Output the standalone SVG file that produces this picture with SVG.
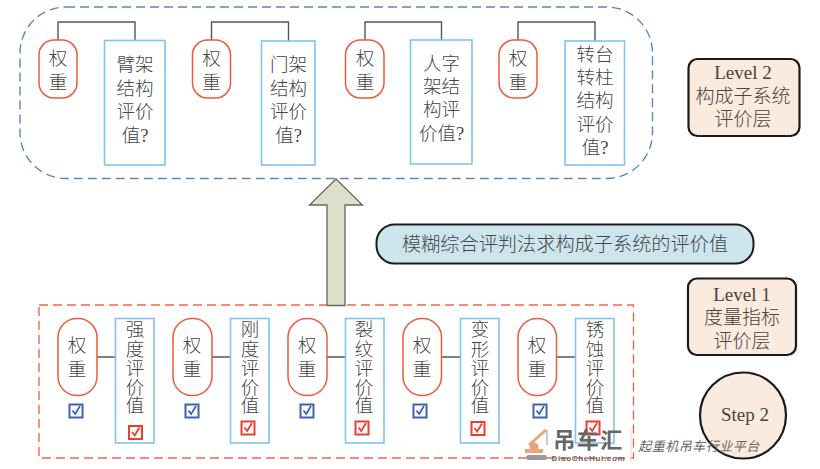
<svg xmlns="http://www.w3.org/2000/svg" width="820" height="469" viewBox="0 0 820 469">
<style>
text{font-family:"Liberation Serif","Noto Sans CJK SC",serif;font-weight:300;fill:#454545;text-anchor:middle;dominant-baseline:central}
.t{font-size:18.5px}
.l{font-size:19px}
.p{fill:#fff;stroke:#ee5a3c;stroke-width:1.5}
.b{fill:#fff;stroke:#82c4ec;stroke-width:1.6}
.c{fill:none;stroke:#555;stroke-width:1.4}
.k{fill:#fbeade;stroke:#1a1a1a;stroke-width:2.2}
</style>
<defs>
<g id="cb"><rect x="-6.5" y="-6.5" width="13" height="13" fill="#fff" stroke="#3d62b5" stroke-width="2"/><path d="M-3.5-.5 -.8 3 4-5" fill="none" stroke="#3d62b5" stroke-width="1.8"/></g>
<g id="cr"><rect x="-6.5" y="-6.5" width="13" height="13" fill="#fff" stroke="#ee3d2c" stroke-width="2"/><path d="M-3.5-.5 -.8 3 4-5" fill="none" stroke="#ee3d2c" stroke-width="1.8"/></g>
</defs>

<g id="level2-frame"><rect x="20" y="7" width="632.5" height="171.5" rx="46" fill="#fff" stroke="#5b85c8" stroke-width="1.4" stroke-dasharray="9 5"/></g>
<g id="level1-frame"><rect x="39" y="305" width="594.5" height="153" fill="#fff" stroke="#f0684c" stroke-width="1.4" stroke-dasharray="9 5"/></g>

<g id="connectors">
<path class="c" d="M58 40V22H135V40M211.500 40V22H288.500V41M365 40V22H441.500V40M518 40V22H595V41"/>
<path class="c" d="M97 357H115.500M212 357H230.500M327 357H345.500M441.500 357H460.500M556.500 357H575.500"/>
</g>

<g id="w1"><rect class="p" x="39" y="40" width="38" height="58" rx="15"/><text class="t" x="58" y="59">权</text><text class="t" x="58" y="83">重</text></g>
<g id="v1"><rect class="b" x="104.500" y="40.500" width="60.500" height="124.500"/><text class="t" x="135" y="65">臂架</text><text class="t" x="135" y="89">结构</text><text class="t" x="135" y="112">评价</text><text class="t" x="135" y="136">值?</text></g>
<g id="w2"><rect class="p" x="192.500" y="40" width="38" height="58" rx="15"/><text class="t" x="211.500" y="59">权</text><text class="t" x="211.500" y="83">重</text></g>
<g id="v2"><rect class="b" x="261.500" y="41" width="53.500" height="124"/><text class="t" x="288.500" y="65">门架</text><text class="t" x="288.500" y="89">结构</text><text class="t" x="288.500" y="112">评价</text><text class="t" x="288.500" y="136">值?</text></g>
<g id="w3"><rect class="p" x="345.500" y="40" width="38.500" height="58" rx="15"/><text class="t" x="365" y="59">权</text><text class="t" x="365" y="83">重</text></g>
<g id="v3"><rect class="b" x="410.500" y="40" width="61.500" height="124"/><text class="t" x="441.500" y="64">人字</text><text class="t" x="441.500" y="87">架结</text><text class="t" x="441.500" y="110">构评</text><text class="t" x="441.500" y="134">价值?</text></g>
<g id="w4"><rect class="p" x="499" y="40" width="38" height="58" rx="15"/><text class="t" x="518" y="59">权</text><text class="t" x="518" y="83">重</text></g>
<g id="v4"><rect class="b" x="565" y="41" width="59.500" height="124"/><text class="t" x="595" y="55">转台</text><text class="t" x="595" y="78">转柱</text><text class="t" x="595" y="101">结构</text><text class="t" x="595" y="125">评价</text><text class="t" x="595" y="148">值?</text></g>

<g id="level2"><rect class="k" x="688.500" y="59" width="111" height="77" rx="9"/><text class="l" x="743" y="72">Level 2</text><text class="l" x="743" y="96">构成子系统</text><text class="l" x="743" y="119">评价层</text></g>
<g id="level1"><rect class="k" x="688" y="278.500" width="108" height="76.500" rx="9"/><text class="l" x="742" y="294">Level 1</text><text class="l" x="742" y="317">度量指标</text><text class="l" x="742" y="341">评价层</text></g>
<g id="step2"><circle class="k" cx="743" cy="415.500" r="43"/><text class="l" x="745" y="414">Step 2</text></g>

<g id="arrow"><path d="M336 179 362.500 205H345V305.500H327V205H309.500Z" fill="#dce0c9" stroke="#666" stroke-width="1.3"/></g>
<g id="method"><rect x="376.500" y="224.500" width="377" height="39" rx="18" fill="#cde6ee" stroke="#1c1c1c" stroke-width="2"/><text x="565" y="244" style="font-size:19.200px">模糊综合评判法求构成子系统的评价值</text></g>

<g id="b1"><rect class="p" x="58" y="318.500" width="39" height="77" rx="19"/><text class="t" x="77" y="346">权</text><text class="t" x="77" y="370">重</text><use href="#cb" x="76" y="411"/></g>
<g id="m1"><rect class="b" x="115.500" y="318.500" width="38.500" height="124.500"/><text class="t" x="135" y="330">强</text><text class="t" x="135" y="349.500">度</text><text class="t" x="135" y="368.500">评</text><text class="t" x="135" y="387.500">价</text><text class="t" x="135" y="406">值</text><use href="#cr" x="135.500" y="432.500"/></g>
<g id="b2"><rect class="p" x="173" y="318.500" width="39" height="77" rx="19"/><text class="t" x="192" y="346">权</text><text class="t" x="192" y="370">重</text><use href="#cb" x="192" y="411"/></g>
<g id="m2"><rect class="b" x="230.500" y="318.500" width="38.500" height="124.500"/><text class="t" x="250" y="330">刚</text><text class="t" x="250" y="349.500">度</text><text class="t" x="250" y="368.500">评</text><text class="t" x="250" y="387.500">价</text><text class="t" x="250" y="406">值</text><use href="#cr" x="248" y="428"/></g>
<g id="b3"><rect class="p" x="288" y="318.500" width="39" height="77" rx="19"/><text class="t" x="307" y="346">权</text><text class="t" x="307" y="370">重</text><use href="#cb" x="307" y="411"/></g>
<g id="m3"><rect class="b" x="345.500" y="318.500" width="38.500" height="124.500"/><text class="t" x="364" y="330">裂</text><text class="t" x="364" y="349.500">纹</text><text class="t" x="364" y="368.500">评</text><text class="t" x="364" y="387.500">价</text><text class="t" x="364" y="406">值</text><use href="#cr" x="362" y="428"/></g>
<g id="b4"><rect class="p" x="403" y="318.500" width="38.500" height="77" rx="19"/><text class="t" x="422" y="346">权</text><text class="t" x="422" y="370">重</text><use href="#cb" x="420" y="411"/></g>
<g id="m4"><rect class="b" x="460.500" y="318.500" width="38.500" height="124.500"/><text class="t" x="480" y="330">变</text><text class="t" x="480" y="349.500">形</text><text class="t" x="480" y="368.500">评</text><text class="t" x="480" y="387.500">价</text><text class="t" x="480" y="406">值</text><use href="#cr" x="478" y="428.500"/></g>
<g id="b5"><rect class="p" x="518" y="318.500" width="38.500" height="77" rx="19"/><text class="t" x="537" y="346">权</text><text class="t" x="537" y="370">重</text><use href="#cb" x="540" y="411"/></g>
<g id="m5"><rect class="b" x="575.500" y="318.500" width="38.500" height="124.500"/><text class="t" x="595" y="330">锈</text><text class="t" x="595" y="349.500">蚀</text><text class="t" x="595" y="368.500">评</text><text class="t" x="595" y="387.500">价</text><text class="t" x="595" y="406">值</text><use href="#cr" x="593" y="428"/></g>

<g id="watermark">
<path d="M529 445 546 430" stroke="#eaa47c" stroke-width="3" fill="none"/>
<path d="M547 430V445" stroke="#999" stroke-width="1" fill="none"/>
<circle cx="534" cy="447" r="4.500" fill="#eaa47c"/>
<path d="M525 449H543V453H525Z" fill="#eaa47c"/>
<rect x="526" y="455" width="21" height="5" rx="2.500" fill="#999"/>
<text x="588.500" y="440" style="font-size:22px;font-weight:700;fill:#666;letter-spacing:1.500px">吊车汇</text>
<text x="588.500" y="458" style="font-size:8px;font-weight:700;fill:#666;font-family:'Liberation Sans',sans-serif;letter-spacing:.7px">DiaoCheHui.com</text>
<text x="699" y="446" style="font-size:13px;font-weight:400;font-style:italic;fill:#666;letter-spacing:.5px">起重机吊车行业平台</text>
<path d="M631 430V462" stroke="#ddd" stroke-width="1"/>
</g>
</svg>
